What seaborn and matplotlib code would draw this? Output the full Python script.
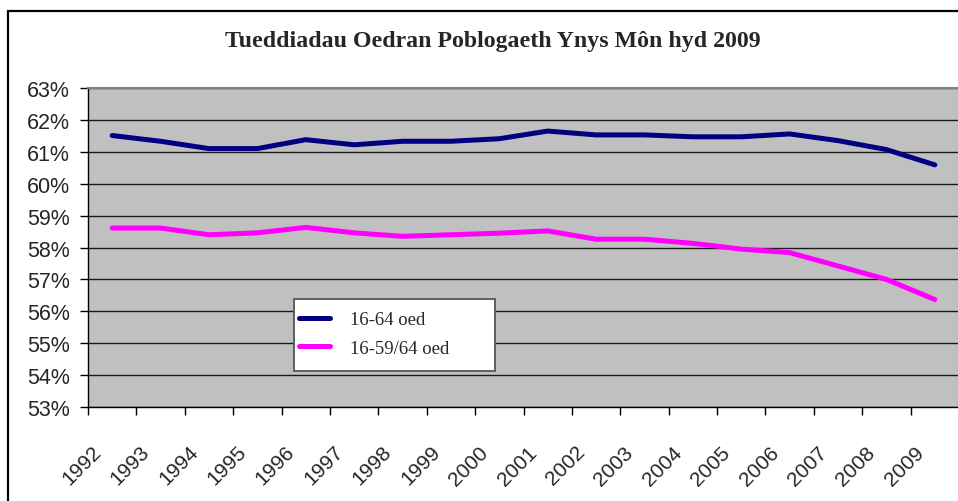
import numpy as np
import pandas as pd
import matplotlib
matplotlib.use("Agg")
import matplotlib.pyplot as plt
import seaborn as sns
from matplotlib.patches import Rectangle
from matplotlib.transforms import ScaledTranslation
from matplotlib.ticker import FixedLocator, FixedFormatter, NullFormatter, FuncFormatter

# values (percent of population)
years = [str(y) for y in range(1992, 2010)]
oed_16_64 = [61.51, 61.33, 61.10, 61.10, 61.38, 61.22, 61.33, 61.33, 61.41, 61.65,
             61.53, 61.53, 61.47, 61.47, 61.56, 61.35, 61.07, 60.59]
oed_16_59_64 = [58.61, 58.61, 58.40, 58.46, 58.63, 58.46, 58.35, 58.40, 58.45, 58.52,
                58.26, 58.26, 58.13, 57.95, 57.84, 57.42, 57.00, 56.37]
series_names = ["16-64 oed", "16-59/64 oed"]
series_colors = ["#000080", "#FF00FF"]
y_ticks = list(range(53, 64))
title = "Tueddiadau Oedran Poblogaeth Ynys Môn hyd 2009"

df = pd.DataFrame({
    "year": years * 2,
    "value": oed_16_64 + oed_16_59_64,
    "series": [series_names[0]] * len(years) + [series_names[1]] * len(years),
})

sns.set_style("white")
plt.rcParams["font.family"] = ["Liberation Sans", "DejaVu Sans"]

W, H = 958, 502
fig = plt.figure(figsize=(W / 100, H / 100), dpi=100)
ax = fig.add_axes([88 / W, 1 - 408 / H, (959 - 88) / W, (408 - 89) / H])
ax.set_facecolor("#C0C0C0")

sns.lineplot(data=df, x="year", y="value", hue="series",
             palette=dict(zip(series_names, series_colors)),
             linewidth=3.6, sort=False, ax=ax)
handles, labels = ax.get_legend_handles_labels()
ax.get_legend().remove()

ax.set_xlim(-0.5, len(years) - 0.5)
ax.set_ylim(53, 63)
ax.set_xlabel("")
ax.set_ylabel("")

# y axis
ax.yaxis.set_major_locator(FixedLocator(y_ticks))
ax.yaxis.set_major_formatter(FuncFormatter(lambda v, p: f"{v:.0f}%"))
ax.tick_params(axis="y", length=6, width=1, color="black", pad=7, labelsize=15.5,
               left=True, direction="out")
ax.yaxis.grid(True, color="#1a1a1a", linewidth=1)
ax.xaxis.grid(False)
ax.set_axisbelow(True)

# x axis: tick marks on category borders, labels at category centres
ax.xaxis.set_major_locator(FixedLocator(np.arange(-0.5, len(years))))
ax.xaxis.set_major_formatter(NullFormatter())
ax.xaxis.set_minor_locator(FixedLocator(np.arange(len(years))))
ax.xaxis.set_minor_formatter(FixedFormatter(years))
ax.tick_params(axis="x", which="major", length=6, width=1, color="black",
               direction="out", bottom=True)
ax.tick_params(axis="x", which="minor", length=0, pad=30, labelsize=15, bottom=True)
shift = ScaledTranslation(-0.14, 0, fig.dpi_scale_trans)
for lbl in ax.xaxis.get_minorticklabels():
    lbl.set_rotation(45)
    lbl.set_rotation_mode("anchor")
    lbl.set_ha("right")
    lbl.set_va("center")
    lbl.set_transform(lbl.get_transform() + shift)

for side in ["left", "bottom"]:
    ax.spines[side].set_color("black")
    ax.spines[side].set_linewidth(1)
for side in ["top", "right"]:
    ax.spines[side].set_color("#808080")
    ax.spines[side].set_linewidth(1.5)

fig.text(493 / W, 1 - 42 / H, title, ha="center", va="center",
         fontfamily="Liberation Serif", fontweight="bold", fontsize=17.2)

# legend box
fig.add_artist(Rectangle((294 / W, 1 - 372 / H), (495 - 294) / W, (372 - 300) / H,
                         transform=fig.transFigure, facecolor="white",
                         edgecolor="#555555", linewidth=1.3, zorder=4))
leg = fig.legend(handles, labels, loc="upper left",
                 bbox_to_anchor=(299 / W, 1 - 312 / H), bbox_transform=fig.transFigure,
                 frameon=False, borderpad=0, borderaxespad=0,
                 handlelength=1.65, handletextpad=1.05, labelspacing=0.6,
                 prop={"family": "Liberation Serif", "size": 13.5})
leg.set_zorder(5)

# outer chart border
fig.add_artist(Rectangle((8 / W, -0.1), 1.2, 1.1 - 12 / H,
                         transform=fig.transFigure, fill=False,
                         edgecolor="black", linewidth=1.6, zorder=4))

fig.savefig("out.png", dpi=100)
